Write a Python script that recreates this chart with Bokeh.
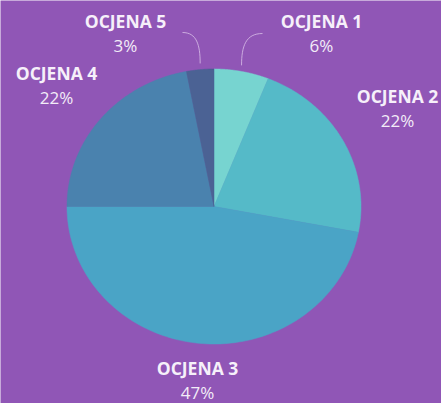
import numpy as np
from bokeh.plotting import figure
from bokeh.models import Range1d
from bokeh.core.properties import value
from bokeh.embed import file_html
from bokeh.resources import INLINE

# ---- data ----
categories = ["OCJENA 1", "OCJENA 2", "OCJENA 3", "OCJENA 4", "OCJENA 5"]
shares = [6, 22, 47, 22, 3]
pct_labels = ["6%", "22%", "47%", "22%", "3%"]
colors = ["#77d4d0", "#55bac8", "#4aa4c6", "#4a82ae", "#4b6294"]

# ---- layout ----
W, H = 441, 403
BG = "#9056b6"
cx, cy = 213.5, 206.0      # pie centre (pixel space, y down)
rx, ry = 147.0, 137.5      # the pie is slightly wider than tall
label_pos = [(321, 20), (397, 95), (197, 367), (56, 72), (125, 20)]
pct_offset = 24.5

p = figure(width=W, height=H, output_backend="svg", toolbar_location=None,
           x_range=Range1d(0, W), y_range=Range1d(H, 0),
           min_border=0, background_fill_color=BG, border_fill_color=BG)
p.axis.visible = False
p.grid.visible = False
p.outline_line_color = None

total = float(sum(shares))
cum = np.concatenate([[0], np.cumsum(shares)]) / total * 2 * np.pi
xs, ys = [], []
for i in range(len(shares)):
    t = np.linspace(cum[i], cum[i + 1], 120)
    xs.append(np.concatenate([[cx], cx + rx * np.sin(t)]).tolist())
    ys.append(np.concatenate([[cy], cy - ry * np.cos(t)]).tolist())
p.patches(xs, ys, fill_color=colors, line_color=colors, line_width=0.5)

# leader lines for the two small slices at the top
mid = (cum[:-1] + cum[1:]) / 2
for i, start in [(4, (182, 32)), (0, (262, 33))]:
    ex = cx + rx * 1.0 * np.sin(mid[i])
    ey = cy - ry * 1.045 * np.cos(mid[i])
    sx, sy = start
    p.bezier(x0=[sx], y0=[sy], x1=[ex], y1=[ey],
             cx0=[sx + (ex - sx) * 0.8], cy0=[sy],
             cx1=[ex], cy1=[sy + (ey - sy) * 0.4],
             line_color="#d9bfe8", line_alpha=0.8, line_width=1)

lx = [q[0] for q in label_pos]
ly = [q[1] for q in label_pos]
p.text(x=lx, y=ly, text=categories, text_align="center", text_baseline="middle",
       text_font=value("Open Sans"), text_font_style="bold",
       text_font_size="17.5px", text_color="#f6f0fa")
p.text(x=lx, y=[v + pct_offset for v in ly], text=pct_labels, text_align="center",
       text_baseline="middle", text_font=value("Open Sans"),
       text_font_size="17px", text_color="#f3ecf8")

open("out.html", "w").write(file_html(p, INLINE))
